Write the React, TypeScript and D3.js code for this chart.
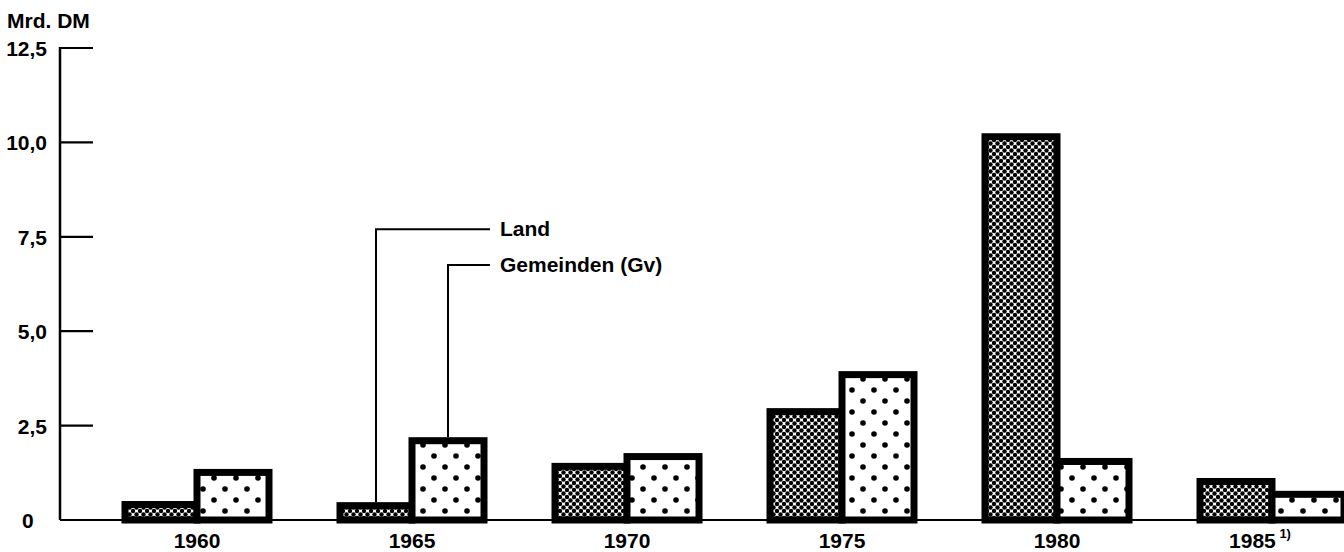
import React from 'react';
import * as d3 from 'd3';

const width = 1344;
const height = 552;
const margin = { left: 60, bottom: 32, top: 48 };

const years = ['1960', '1965', '1970', '1975', '1980', '1985'];
const series = ['Land', 'Gemeinden (Gv)'];
const land = [0.41, 0.38, 1.42, 2.87, 10.15, 1.02];
const gemeinden = [1.26, 2.1, 1.68, 3.85, 1.55, 0.68];
const yTicks = [0, 2.5, 5, 7.5, 10, 12.5];
const fmt = (v: number) => (v === 0 ? '0' : d3.format('.1f')(v).replace('.', ','));

const font = '"Liberation Sans", Arial, sans-serif';

export const App = () => {
    const baseY = height - margin.bottom;
    const y = d3.scaleLinear().domain([0, 12.5]).range([baseY, margin.top]);
    const x0 = d3.scalePoint<string>().domain(years).range([197, 1272]);
    const x1 = d3.scaleBand<string>().domain(series).range([-72, 72]);
    const bw = x1.bandwidth();
    const values = [land, gemeinden];
    const fills = ['url(#dense)', 'url(#sparse)'];

    // leader lines to 1965 bars
    const legendY = [y(7.7), y(6.75)];
    const legendX = 490;

    return (
        <svg width={width} height={height} style={{ position: 'absolute', left: 0, top: 0, background: '#fff' }}>
            <defs>
                <pattern id="dense" width="7" height="7" patternUnits="userSpaceOnUse">
                    <rect width="7" height="7" fill="#fff" />
                    <circle cx="0" cy="0" r="2.2" fill="#000" />
                    <circle cx="7" cy="0" r="2.2" fill="#000" />
                    <circle cx="0" cy="7" r="2.2" fill="#000" />
                    <circle cx="7" cy="7" r="2.2" fill="#000" />
                    <circle cx="3.5" cy="3.5" r="2.2" fill="#000" />
                </pattern>
                <pattern id="sparse" width="22" height="22" patternUnits="userSpaceOnUse">
                    <rect width="22" height="22" fill="#fff" />
                    <circle cx="5" cy="5" r="2.8" fill="#000" />
                    <circle cx="16" cy="16" r="2.8" fill="#000" />
                </pattern>
            </defs>

            <text x={7} y={28} fontFamily={font} fontWeight="bold" fontSize={21}>Mrd. DM</text>

            {/* y axis */}
            <line x1={margin.left} x2={margin.left} y1={y(12.5) - 1} y2={baseY} stroke="#000" strokeWidth={2.5} />
            {yTicks.map(t => (
                <g key={t}>
                    {t > 0 && <line x1={margin.left} x2={margin.left + 33} y1={y(t)} y2={y(t)} stroke="#000" strokeWidth={2.2} />}
                    <text
                        x={t === 0 ? 22 : 47}
                        y={y(t) + 8}
                        textAnchor={t === 0 ? 'start' : 'end'}
                        fontFamily={font}
                        fontWeight="bold"
                        fontSize={21}
                    >{fmt(t)}</text>
                </g>
            ))}

            {/* bars */}
            {years.map((yr, i) => (
                <g key={yr}>
                    {series.map((s, j) => (
                        <rect
                            key={s}
                            x={(x0(yr) as number) + (x1(s) as number)}
                            y={y(values[j][i])}
                            width={bw}
                            height={baseY - y(values[j][i])}
                            fill={fills[j]}
                            stroke="#000"
                            strokeWidth={7}
                        />
                    ))}
                </g>
            ))}

            {/* baseline */}
            <line x1={margin.left} x2={width} y1={baseY} y2={baseY} stroke="#000" strokeWidth={2.2} />

            {/* x labels */}
            {years.map(yr => (
                <text
                    key={yr}
                    x={x0(yr) as number}
                    dx={yr === '1985' ? -12 : 0}
                    y={548}
                    textAnchor="middle"
                    fontFamily={font}
                    fontWeight="bold"
                    fontSize={21}
                >
                    {yr}
                    {yr === '1985' && <tspan dy={-10} fontSize={13}>{' 1)'}</tspan>}
                </text>
            ))}

            {/* legend leaders */}
            {series.map((s, j) => {
                const lx = (x0('1965') as number) + (x1(s) as number) + bw / 2;
                return (
                    <g key={s}>
                        <polyline
                            points={`${lx},${y(values[j][1]) - 3.5} ${lx},${legendY[j]} ${legendX},${legendY[j]}`}
                            fill="none"
                            stroke="#000"
                            strokeWidth={2}
                        />
                        <text x={legendX + 10} y={legendY[j] + 7} fontFamily={font} fontWeight="bold" fontSize={21}>{s}</text>
                    </g>
                );
            })}
        </svg>
    );
};

export default App;
